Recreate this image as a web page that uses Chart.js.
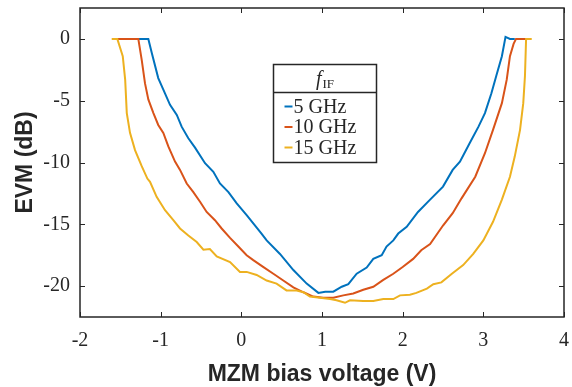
<!DOCTYPE html>
<html>
<head>
<meta charset="utf-8">
<script src="https://cdn.jsdelivr.net/npm/chart.js@4"></script>
<style>
  html, body { margin:0; padding:0; background:#fff; }
  #wrap { width:572px; height:387px; position:relative; }
</style>
</head>
<body>
<div id="wrap"><canvas id="evmChart" width="572" height="387"></canvas></div>
<script>
// EVM vs MZM bias, three IF frequencies
const x5  = [-1.277,-1.153,-1.11,-1.03,-0.967,-0.884,-0.80,-0.74,-0.657,-0.574,-0.45,-0.347,-0.265,-0.16,-0.057,0.066,0.25,0.314,0.479,0.645,0.81,0.955,1.04,1.14,1.245,1.326,1.43,1.554,1.636,1.74,1.80,1.884,1.945,2.05,2.19,2.34,2.50,2.62,2.71,2.83,2.94,3.02,3.10,3.16,3.23,3.275,3.33,3.39];
const evm5 = [0,0,-1.14,-3.17,-4.1,-5.33,-6.15,-7.1,-8.04,-8.8,-10.06,-10.75,-11.7,-12.4,-13.3,-14.26,-15.75,-16.3,-17.4,-18.7,-19.8,-20.55,-20.45,-20.45,-20.05,-19.85,-19.0,-18.5,-17.8,-17.5,-16.8,-16.3,-15.75,-15.2,-14.0,-13.0,-11.95,-10.6,-9.93,-8.44,-7.1,-6.0,-4.4,-3.0,-1.4,0.16,0,0];

const x10 = [-1.537,-1.277,-1.235,-1.194,-1.153,-1.09,-1.03,-0.967,-0.905,-0.822,-0.76,-0.677,-0.595,-0.51,-0.43,-0.327,-0.244,-0.14,-0.037,0.066,0.148,0.27,0.397,0.52,0.645,0.77,0.892,1.016,1.14,1.264,1.388,1.512,1.636,1.76,1.884,2.0,2.13,2.23,2.34,2.50,2.62,2.73,2.90,3.02,3.12,3.23,3.29,3.33,3.375,3.405,3.54];
const evm10 = [0,0,-1.7,-3.6,-4.9,-6.0,-6.96,-7.6,-8.7,-9.93,-10.6,-11.7,-12.4,-13.2,-14.0,-14.67,-15.34,-16.1,-16.8,-17.5,-17.9,-18.45,-19.0,-19.55,-20.1,-20.5,-20.85,-20.95,-20.95,-20.75,-20.6,-20.3,-20.05,-19.5,-19.0,-18.45,-17.8,-17.1,-16.6,-15.1,-14.1,-12.9,-11.15,-9.25,-7.36,-5.2,-3.3,-1.4,-0.4,0,0];

const x15 = [-1.607,-1.537,-1.47,-1.44,-1.42,-1.38,-1.318,-1.235,-1.165,-1.132,-1.05,-0.946,-0.843,-0.76,-0.657,-0.553,-0.47,-0.39,-0.305,-0.14,-0.017,0.066,0.19,0.314,0.437,0.56,0.686,0.77,0.85,0.975,1.1,1.18,1.285,1.347,1.51,1.636,1.76,1.884,1.967,2.09,2.17,2.30,2.38,2.48,2.61,2.75,2.875,3.0,3.12,3.23,3.33,3.39,3.455,3.495,3.516,3.53,3.60];
const evm15 = [0,0,-1.4,-3.3,-6.0,-7.6,-9.0,-10.3,-11.3,-11.56,-12.78,-13.86,-14.67,-15.34,-15.9,-16.43,-17.05,-17.0,-17.6,-18.05,-18.85,-18.85,-19.1,-19.55,-19.8,-20.35,-20.35,-20.5,-20.85,-20.95,-21.05,-21.15,-21.35,-21.15,-21.2,-21.2,-21.05,-21.05,-20.75,-20.7,-20.55,-20.2,-19.85,-19.7,-19.0,-18.3,-17.4,-16.3,-14.8,-13.0,-11.15,-9.5,-7.36,-5.2,-3.0,0,0];

const seriesNames = ['5 GHz','10 GHz','15 GHz'];
const xTicks = [-2,-1,0,1,2,3,4];
const yTicks = [-20,-15,-10,-5,0];

const COLORS = ['#0072BD','#D95319','#EDB120'];
const AXIS = '#262626';
const SERIF = '"Liberation Serif", "DejaVu Serif", serif';

const pts = (xs, ys) => xs.map((x,i) => ({x:x, y:ys[i]}));

// box on all four sides + inward ticks, matlab style
const boxPlugin = {
  id:'box',
  afterDraw(chart){
    const {ctx, chartArea:a, scales:{x, y}} = chart;
    ctx.save();
    ctx.strokeStyle = AXIS;
    ctx.lineWidth = 1.5;
    ctx.strokeRect(a.left, a.top, a.right-a.left, a.bottom-a.top);
    ctx.lineWidth = 1;
    ctx.beginPath();
    xTicks.forEach(v => {
      const px = Math.round(x.getPixelForValue(v)) + 0.5;
      ctx.moveTo(px, a.bottom); ctx.lineTo(px, a.bottom-5);
      ctx.moveTo(px, a.top); ctx.lineTo(px, a.top+5);
    });
    yTicks.forEach(v => {
      const py = Math.round(y.getPixelForValue(v)) + 0.5;
      ctx.moveTo(a.left, py); ctx.lineTo(a.left+5, py);
      ctx.moveTo(a.right, py); ctx.lineTo(a.right-5, py);
    });
    ctx.stroke();
    ctx.restore();
  }
};

// legend box with f_IF header
const legendPlugin = {
  id:'ifLegend',
  afterDraw(chart){
    const ctx = chart.ctx;
    const L = 273.5, T = 64.5, W = 103, H = 98, head = 28;
    ctx.save();
    ctx.fillStyle = '#fff';
    ctx.fillRect(L, T, W, H);
    ctx.strokeStyle = AXIS;
    ctx.lineWidth = 1.5;
    ctx.strokeRect(L, T, W, H);
    ctx.beginPath();
    ctx.moveTo(L, T+head); ctx.lineTo(L+W, T+head);
    ctx.stroke();
    // header: italic f with roman subscript IF
    ctx.fillStyle = AXIS;
    ctx.textBaseline = 'alphabetic';
    ctx.font = 'italic 20px ' + SERIF;
    const fw = ctx.measureText('f').width;
    ctx.font = '13px ' + SERIF;
    const sw = ctx.measureText('IF').width;
    const hx = L + W/2 - (fw+sw+1)/2;
    ctx.font = 'italic 20px ' + SERIF;
    ctx.fillText('f', hx, T+20);
    ctx.font = '13px ' + SERIF;
    ctx.fillText('IF', hx+fw+1, T+23);
    // entries
    ctx.font = '20px ' + SERIF;
    seriesNames.forEach((name, i) => {
      const cy = T + head + 14 + i*20.5;
      ctx.strokeStyle = COLORS[i];
      ctx.lineWidth = 2;
      ctx.beginPath();
      ctx.moveTo(L+11, cy); ctx.lineTo(L+19, cy);
      ctx.stroke();
      ctx.fillStyle = AXIS;
      ctx.textBaseline = 'middle';
      ctx.fillText(name, L+20, cy+1);
    });
    ctx.restore();
  }
};

new Chart(document.getElementById('evmChart'), {
  type:'scatter',
  data:{
    datasets:[
      {label:seriesNames[0], data:pts(x5, evm5),   borderColor:COLORS[0], order:2},
      {label:seriesNames[1], data:pts(x10, evm10), borderColor:COLORS[1], order:1},
      {label:seriesNames[2], data:pts(x15, evm15), borderColor:COLORS[2], order:0},
    ].map(d => Object.assign(d, {showLine:true, borderWidth:2, pointRadius:0, fill:false, tension:0}))
  },
  options:{
    responsive:false, animation:false,
    layout:{padding:{top:8, right:8, left:0, bottom:0}},
    plugins:{legend:{display:false}, tooltip:{enabled:false}},
    scales:{
      x:{
        type:'linear', min:-2, max:4,
        afterBuildTicks: s => { s.ticks = xTicks.map(v => ({value:v})); },
        afterFit: s => { s.height = 70; s.paddingLeft = 0; s.paddingRight = 0; },
        grid:{display:false, drawTicks:false},
        border:{display:false},
        ticks:{font:{family:SERIF, size:20}, color:AXIS, padding:12, maxRotation:0},
        title:{display:true, text:'MZM bias voltage (V)', color:AXIS,
               font:{family:'"Liberation Sans", Arial, sans-serif', size:23, weight:'bold'}, padding:{top:0, bottom:-1}}
      },
      y:{
        type:'linear', min:-22.5, max:2.5,
        afterBuildTicks: s => { s.ticks = yTicks.map(v => ({value:v})); },
        afterFit: s => { s.width = 80; s.paddingTop = 0; s.paddingBottom = 0; },
        grid:{display:false, drawTicks:false},
        border:{display:false},
        ticks:{font:{family:SERIF, size:20}, color:AXIS, padding:10},
        title:{display:true, text:'EVM (dB)', color:AXIS,
               font:{family:'"Liberation Sans", Arial, sans-serif', size:23, weight:'bold'}, padding:{top:12, bottom:0}}
      }
    }
  },
  plugins:[boxPlugin, legendPlugin]
});
</script>
</body>
</html>
